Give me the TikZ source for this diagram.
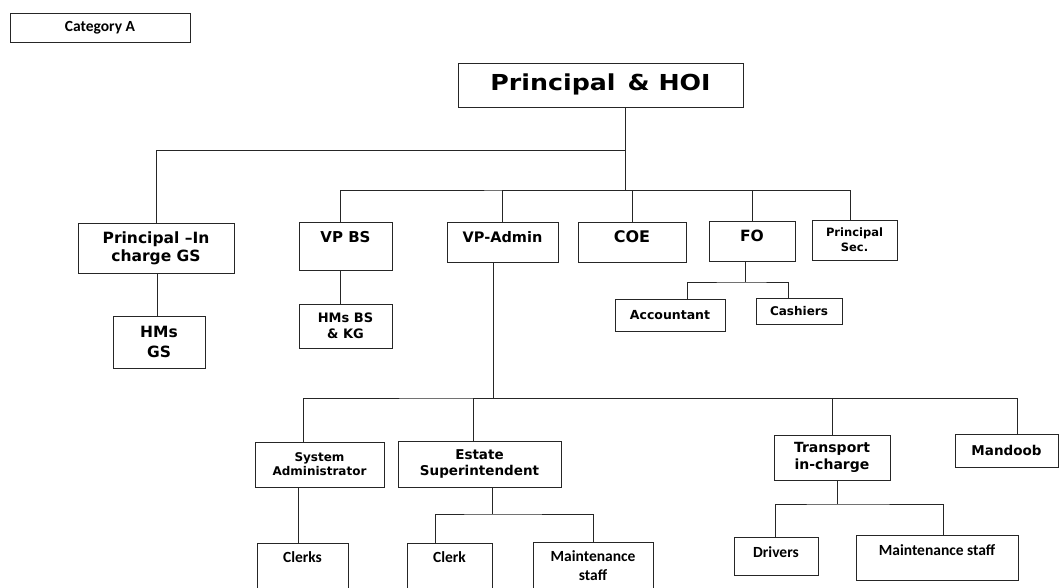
\documentclass[tikz,border=0pt]{standalone}
\usepackage{fontspec}
\newfontfamily\vb{DejaVu Sans}
\newfontfamily\vbw{DejaVu Sans}[FakeStretch=1.15]
\newfontfamily\cb{Carlito}
\begin{document}
\begin{tikzpicture}[x=1pt,y=-1pt,
  box/.style={draw=black!85, line width=1pt, inner sep=0pt, align=center},
  conn/.style={draw=black!85, line width=1pt},
  vf/.style 2 args={font=\vb\bfseries\fontsize{#1}{#2}\selectfont},
  vw/.style 2 args={font=\vbw\bfseries\fontsize{#1}{#2}\selectfont},
  cf/.style 2 args={font=\cb\bfseries\fontsize{#1}{#2}\selectfont},
  tup/.style 2 args={text height=#1, text depth=#2}]
\useasboundingbox (0,0) rectangle (1060,587);
\clip (0,0) rectangle (1060,587);
% boxes
\node[box, cf={15.5}{18}, minimum width=180, minimum height=29] (cat) at (100,27.5) {Category A};
\node[box, vw={22}{26}, tup={16pt}{6pt}, minimum width=285, minimum height=44] (hoi) at (600.5,85) {Principal\hspace{12pt}\& HOI};
\node[box, vf={15.5}{18}, minimum width=156, minimum height=50] (pgs) at (156,248) {Principal –In\\charge GS};
\node[box, vf={15}{18}, tup={10.9pt}{18pt}, minimum width=93, minimum height=48] (vpbs) at (345.5,246) {VP BS};
\node[box, vf={14.5}{17}, tup={10.6pt}{10pt}, minimum width=111, minimum height=40] (vpadm) at (502.5,242) {VP-Admin};
\node[box, vf={16}{19}, tup={11.7pt}{10pt}, minimum width=108, minimum height=40] (coe) at (632,242) {COE};
\node[box, vf={15.5}{18}, tup={11.3pt}{10pt}, minimum width=86, minimum height=40] (fo) at (752,241) {FO};
\node[box, vf={11.5}{15}, minimum width=85, minimum height=40] (psec) at (854.5,240) {Principal\\Sec.};
\node[box, vf={15.5}{20}, minimum width=92, minimum height=52] (hmgs) at (159,342) {HMs\\GS};
\node[box, vf={13}{16}, minimum width=93, minimum height=44] (hmbs) at (345.5,326) {HMs BS\\\& KG};
\node[box, vf={12.5}{15}, minimum width=110, minimum height=32] (acc) at (670,315) {Accountant};
\node[box, vf={12}{15}, minimum width=86, minimum height=26] (cash) at (799,311) {Cashiers};
\node[box, vf={12}{14}, minimum width=129, minimum height=45] (sys) at (319.5,464.5) {System\\Administrator};
\node[box, vf={13.5}{16}, minimum width=163, minimum height=46] (est) at (479.5,464) {Estate\\Superintendent};
\node[box, vf={14}{17}, minimum width=116, minimum height=45] (trn) at (832,457.5) {Transport\\in-charge};
\node[box, vf={13.5}{16}, minimum width=103, minimum height=33] (man) at (1006.5,450.5) {Mandoob};
\node[box, cf={15.5}{19}, tup={10pt}{29pt}, minimum width=91, minimum height=57] (clks) at (302.5,571.5) {Clerks};
\node[box, cf={15.5}{19}, tup={10pt}{29pt}, minimum width=85, minimum height=57] (clk) at (449.5,571.5) {Clerk};
\node[box, cf={15.5}{19}, minimum width=120, minimum height=47] (mst1) at (593,565.5) {Maintenance\\staff};
\node[box, cf={15.5}{19}, tup={10pt}{8pt}, minimum width=84, minimum height=38] (drv) at (776,556) {Drivers};
\node[box, cf={15.5}{19}, tup={10pt}{15pt}, minimum width=162, minimum height=45] (mst2) at (937,557.5) {Maintenance staff};
% bus coordinates
\coordinate (t1) at (625,150);
\coordinate (t2) at (625,190);
\coordinate (f1) at (745,282);
\coordinate (v1) at (493,398);
\coordinate (e1) at (492,514);
\coordinate (r1) at (837,504);
% connectors
\draw[conn] ([xshift=24.5pt]hoi.south) -- (t2);
\draw[conn] (t1) -| (pgs.north);
\draw[conn] ([xshift=-5.5pt]vpbs.north) |- (t2) -| ([xshift=-4.5pt]psec.north);
\draw[conn] (vpadm.north) |- (t2);
\draw[conn] (coe.north) |- (t2);
\draw[conn] (fo.north) |- (t2);
\draw[conn] ([xshift=1pt]pgs.south) -- ([xshift=-2pt]hmgs.north);
\draw[conn] ([xshift=-5.5pt]vpbs.south) -- ([xshift=-5.5pt]hmbs.north);
\draw[conn] ([xshift=-7pt]fo.south) -- (f1);
\draw[conn] ([xshift=17pt]acc.north) |- (f1) -| ([xshift=-11pt]cash.north);
\draw[conn] ([xshift=-9.5pt]vpadm.south) -- (v1);
\draw[conn] ([xshift=-16.5pt]sys.north) |- (v1) -| ([xshift=10.5pt]man.north);
\draw[conn] ([xshift=-6.5pt]est.north) |- (v1);
\draw[conn] (trn.north) |- (v1);
\draw[conn] ([xshift=-21.5pt]sys.south) -- ([xshift=-4.5pt]clks.north);
\draw[conn] ([xshift=12.5pt]est.south) -- (e1);
\draw[conn] ([xshift=-14.5pt]clk.north) |- (e1) -| (mst1.north);
\draw[conn] ([xshift=5pt]trn.south) -- (r1);
\draw[conn] ([xshift=-1pt]drv.north) |- (r1) -| ([xshift=6pt]mst2.north);
\end{tikzpicture}
\end{document}
